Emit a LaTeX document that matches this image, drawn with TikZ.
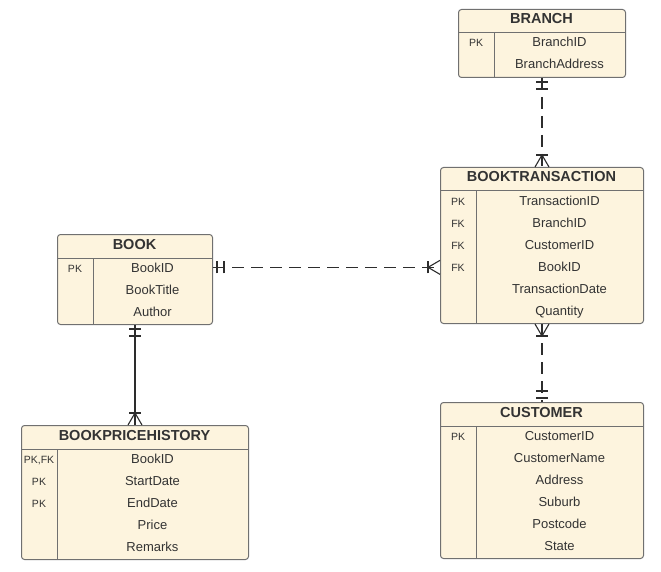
\documentclass[tikz,border=0pt]{standalone}
\usepackage{fontspec}
\setmainfont{Liberation Sans}
\usetikzlibrary{calc,decorations.markings}
\definecolor{colfill}{RGB}{253,244,222}
\definecolor{colborder}{RGB}{112,112,112}
\definecolor{coltext}{RGB}{51,51,51}
\definecolor{colline}{RGB}{45,45,45}
\tikzset{
  tablebox/.style={draw=colborder, fill=colfill, line width=1pt,
    rounded corners=3pt, inner sep=0pt},
  tablerule/.style={draw=colborder, line width=1pt},
  tabtitle/.style={font=\fontsize{14.5}{16}\selectfont\bfseries, text=coltext, inner sep=0pt},
  fieldtext/.style={font=\fontsize{13}{15}\selectfont, text=coltext, inner sep=0pt},
  keytext/.style={font=\fontsize{10.5}{12}\selectfont, text=coltext, inner sep=0pt},
  relline/.style={draw=colline, line width=1.1pt},
  dashedrel/.style={relline, dash pattern=on 12pt off 7pt},
  onestart/.style={postaction={decorate, decoration={markings,
    mark=at position 4pt with {\draw[solid] (0,-6pt) -- (0,6pt);},
    mark=at position 11pt with {\draw[solid] (0,-6pt) -- (0,6pt);}}}},
  oneend/.style={postaction={decorate, decoration={markings,
    mark=at position -4pt with {\draw[solid] (0,-6pt) -- (0,6pt);},
    mark=at position -11pt with {\draw[solid] (0,-6pt) -- (0,6pt);}}}},
  manystart/.style={postaction={decorate, decoration={markings,
    mark=at position 0 with {\draw[solid] (0pt,7pt) -- (12pt,0pt) -- (0pt,-7pt);
      \draw[solid] (12pt,-6pt) -- (12pt,6pt);}}}},
  manyend/.style={postaction={decorate, decoration={markings,
    mark=at position 1 with {\draw[solid] (0pt,7pt) -- (-12pt,0pt) -- (0pt,-7pt);
      \draw[solid] (-12pt,-6pt) -- (-12pt,6pt);}}}}
}
% #1 name, #2 x, #3 y, #4 width, #5 rows, #6 title, #7 key/field list
\newcommand{\ertable}[7]{%
  \pgfmathsetmacro{\tabh}{24+22*#5}
  \node[tablebox, minimum width=#4pt, minimum height=\tabh pt, anchor=north west] (#1) at (#2,#3) {};
  \node[tabtitle, anchor=base] (#1-title) at ({#2+#4/2},{#3+15}) {#6};
  \draw[tablerule] ([yshift=-24pt]#1.north west) -- ([yshift=-24pt]#1.north east);
  \draw[tablerule] ([xshift=36pt,yshift=-24pt]#1.north west) -- ([xshift=36pt]#1.south west);
  \foreach \k/\f [count=\i] in {#7} {
    \node[keytext, anchor=base] (#1-k\i) at ({#2+18},{#3+38+22*(\i-1)}) {\k};
    \node[fieldtext, anchor=base] (#1-r\i) at ({#2+18+#4/2},{#3+38+22*(\i-1)}) {\f};
  }
}

\begin{document}
\begin{tikzpicture}[x=1pt, y=-1pt]
  \useasboundingbox (0,0) rectangle (661,572);

  % the tables
  \ertable{branch}{458}{9}{167}{2}{BRANCH}{PK/BranchID, /BranchAddress}
  \ertable{booktx}{440}{167}{203}{6}{BOOKTRANSACTION}{PK/TransactionID, FK/BranchID,
    FK/CustomerID, FK/BookID, /TransactionDate, /Quantity}
  \ertable{book}{57}{234}{155}{3}{BOOK}{PK/BookID, /BookTitle, /Author}
  \ertable{bph}{21}{425}{227}{5}{BOOKPRICEHISTORY}{{PK,FK}/BookID, PK/StartDate,
    PK/EndDate, /Price, /Remarks}
  \ertable{customer}{440}{402}{203}{6}{CUSTOMER}{PK/CustomerID, /CustomerName,
    /Address, /Suburb, /Postcode, /State}

  % the relationships
  \draw[dashedrel, onestart, manyend] (branch) -- (booktx);
  \draw[dashedrel, onestart, manyend] (book.east |- book-r1) -- (booktx.west |- book-r1);
  \draw[dashedrel, manystart, oneend] (booktx) -- (customer);
  \draw[relline, onestart, manyend] (book) -- (bph);
\end{tikzpicture}
\end{document}
